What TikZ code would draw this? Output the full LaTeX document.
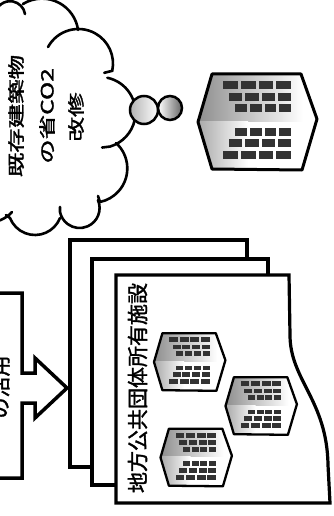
\documentclass[tikz,border=0pt]{standalone}
\usepackage{fontspec}
\usepackage{graphicx}
\newfontfamily\jpfont{Noto Sans CJK JP}[FakeBold=1.6]
\tikzset{
  pics/tower/.style={code={
    % shaded body of the tower, clipped to its outline
    \begin{scope}
      \clip (-46,-48) -- (43,-48) -- (59,-3) -- (44,48) -- (-46,47) -- (-60,0) -- cycle;
      \fill[white] (-62,-50) rectangle (62,50);
      \shade[left color=black!45, right color=white] (-62,-50) rectangle (45,-1);
      \shade[left color=black!35, right color=white] (-62,-1) rectangle (-10,50);
    \end{scope}
    % window rows: centre line / left end
    \foreach \wy/\wl in {-37/-35,-25/-29,-14/-23,10/-23,21/-29,33/-35}{
      \pgfmathsetmacro\ww{(33-\wl-9)/4}
      \foreach \wi in {0,...,3}{
        \fill[black!80] ({\wl+\wi*(\ww+3)},{\wy-4}) rectangle ++(\ww,8);
      }
    }
    \draw[line join=round] (-46,-48) -- (43,-48) -- (59,-3) -- (44,48) -- (-46,47) -- (-60,0) -- cycle;
  }}
}
\begin{document}
\begin{tikzpicture}[x=1pt,y=-1pt,
  cloudline/.style={draw=black, line width=2.6pt, line cap=round},
  sheet/.style={draw=black, fill=white, line width=3.2pt, line join=miter},
  cloudtxt/.style={rotate=90, inner sep=0pt, font=\jpfont\fontsize{17}{17}\selectfont},
  bigtxt/.style={rotate=90, inner sep=0pt, font=\jpfont\fontsize{21}{21}\selectfont}]
\useasboundingbox (0,0) rectangle (333,516);
\fill[white] (0,0) rectangle (333,516);
\clip (0,0) rectangle (333,516);

% thought cloud, one arc per bump
\begin{scope}[cloudline]
  \draw (10.1,16.3) ++(190:15.1) arc[start angle=190, end angle=351.3, radius=15.1];
  \draw (42,35) ++(238.5:36.4) arc[start angle=238.5, end angle=352, radius=36.4];
  \draw (78.4,63.6) ++(208.6:34.6) arc[start angle=208.6, end angle=372, radius=34.6] -- ++(-8,2);
  \draw (100,112.5) ++(282:35.5) arc[start angle=282, end angle=433.5, radius=35.5] -- ++(-8,1);
  \draw (93,168.4) ++(-47.8:34.3) arc[start angle=-47.8, end angle=78.2, radius=34.3] -- ++(-2,-6);
  \draw (79.6,208) ++(-23.5:20) arc[start angle=-23.5, end angle=168.5, radius=20] -- ++(0,-5);
  \draw (35,208.1) ++(21.6:26.9) arc[start angle=21.6, end angle=158.4, radius=26.9] -- ++(-4,-3);
  \draw (-12,190) ++(42.5:32.6) arc[start angle=42.5, end angle=90, radius=32.6];
\end{scope}

% bubbles leading from the cloud
\shade[left color=black!30, middle color=white, right color=white] (144,110) circle[radius=14];
\draw[line width=2.5pt] (144,110) circle[radius=14];
\shade[left color=white, middle color=white, right color=black!60] (170,108) circle[radius=12];
\draw[line width=2.5pt] (170,108) circle[radius=12];

\node[cloudtxt] (l1) at (16,116) {\scalebox{1.44}[1]{既存建築物}};
\node[cloudtxt] (l2) at (47,116) {\scalebox{1.44}[1]{の省CO2}};
\node[cloudtxt] (l3) at (76,117) {\scalebox{1.44}[1]{改修}};

% existing building
\pic[line width=3pt] (existing) at (258,122) {tower};

% source box with block arrow
\draw[sheet, line width=3.5pt] (-5,293) -- (22,293) -- (22,373) -- (35,373) -- (35,358)
  -- (67,388) -- (35,418) -- (35,403) -- (22,403) -- (22,478) -- (-5,478);
\node[bigtxt] (usage) at (0,387) {の活用};

% stack of facility sheets
\draw[sheet] (70,240) rectangle (247,467);
\draw[sheet] (92,259) rectangle (268,485);
\draw[sheet] (116,275) -- (289,275) -- (290,335)
  .. controls (290,380) and (327,400) .. (328,465) -- (330,503) -- (116,503) -- cycle;
\node[bigtxt] (facility) at (137.5,388) {地方公共団体所有施設};

\pic[line width=2.3pt, scale=0.6] (fa) at (190,362) {tower};
\pic[line width=2.3pt, scale=0.6] (fb) at (261.5,406) {tower};
\pic[line width=2.3pt, scale=0.6] (fc) at (196.5,457.5) {tower};
\end{tikzpicture}
\end{document}
